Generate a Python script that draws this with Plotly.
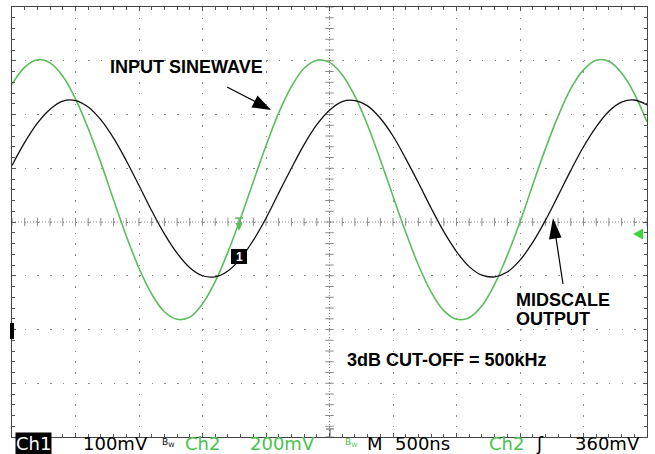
import numpy as np
import plotly.graph_objects as go

time_us = [round(0.1 * i, 1) for i in range(51)]          # 500 ns/div, 10 div
ch2_input_div = [2.56, 2.88, 3.02, 2.96, 2.71, 2.29, 1.74, 1.10, 0.41, -0.26,
                 -0.86, -1.34, -1.67, -1.81, -1.77, -1.52, -1.11, -0.56, 0.07, 0.75,
                 1.42, 2.03, 2.52, 2.86, 3.01, 2.97, 2.74, 2.34, 1.80, 1.16,
                 0.48, -0.19, -0.80, -1.30, -1.65, -1.81, -1.78, -1.56, -1.16, -0.62,
                 0.00, 0.69, 1.36, 1.97, 2.48, 2.83, 3.01, 2.99, 2.77, 2.39, 1.86]
ch1_output_div = [1.05, 1.48, 1.84, 2.10, 2.25, 2.26, 2.14, 1.90, 1.56, 1.14,
                  0.68, 0.21, -0.22, -0.58, -0.85, -1.00, -1.02, -0.91, -0.68, -0.34,
                  0.07, 0.54, 1.00, 1.44, 1.81, 2.08, 2.24, 2.26, 2.16, 1.93,
                  1.60, 1.18, 0.73, 0.26, -0.18, -0.55, -0.83, -0.99, -1.02, -0.93,
                  -0.71, -0.38, 0.03, 0.49, 0.96, 1.40, 1.77, 2.06, 2.23, 2.27, 2.18]

status_items = [  # text, left px, colour, size
    ("100mV", 82, "#000000", 18),
    ("B<sub>W</sub>", 161, "#000000", 9),
    ("Ch2", 184, "#4cc24c", 18),
    ("200mV", 249, "#4cc24c", 18),
    ("B<sub>W</sub>", 344, "#4cc24c", 9),
    ("M", 366, "#000000", 18),
    ("500ns", 394, "#000000", 18),
    ("Ch2", 488, "#4cc24c", 18),
    ("ʃ", 535, "#000000", 18),
    ("360mV", 574, "#000000", 18),
]

W, H = 655, 454
L, R, T, B = 12, 647, 7, 437


def P(px, py):
    return (px - L) / (R - L), (B - py) / (B - T)


GREEN = "#5cbd5c"
GRID = "#8a8a8a"

fig = go.Figure()

# centre graticule ticks
cy = np.round(np.arange(-4, 4.001, 0.2), 2)
cx = np.round(np.arange(0, 5.001, 0.1), 2)
fig.add_trace(go.Scatter(x=[2.5] * len(cy), y=cy, mode="markers", hoverinfo="skip",
                         marker=dict(symbol="line-ew", size=6, line=dict(width=1, color=GRID)),
                         showlegend=False))
fig.add_trace(go.Scatter(x=cx, y=[0] * len(cx), mode="markers", hoverinfo="skip",
                         marker=dict(symbol="line-ns", size=6, line=dict(width=1, color=GRID)),
                         showlegend=False))

fig.add_trace(go.Scatter(x=time_us, y=ch2_input_div, mode="lines", line_shape="spline",
                         line=dict(color=GREEN, width=1.6), showlegend=False))
fig.add_trace(go.Scatter(x=time_us, y=ch1_output_div, mode="lines", line_shape="spline",
                         line=dict(color="#111111", width=1.3), showlegend=False))

shapes = [
    dict(type="line", xref="x", yref="y", x0=2.5, x1=2.5, y0=-4, y1=4,
         line=dict(color=GRID, width=1, dash="1px,2px"), layer="below"),
    dict(type="line", xref="x", yref="y", x0=0, x1=5, y0=0, y1=0,
         line=dict(color=GRID, width=1, dash="1px,2px"), layer="below"),
]


def path(points):
    s = "M" + " L".join(f"{P(x, y)[0]:.5f},{P(x, y)[1]:.5f}" for x, y in points) + " Z"
    return s


def seg(p0, p1, color="#000000", width=1.2):
    a, b = P(*p0), P(*p1)
    return dict(type="line", xref="paper", yref="paper", x0=a[0], y0=a[1], x1=b[0], y1=b[1],
                line=dict(color=color, width=width))


# arrow to input sinewave
shapes.append(seg((227, 87), (256, 102)))
shapes.append(dict(type="path", xref="paper", yref="paper",
                   path=path([(271, 110), (251.5, 107.5), (257.5, 95.5)]),
                   fillcolor="#000000", line=dict(width=0)))
# arrow to midscale output
shapes.append(seg((563, 284), (556, 238)))
shapes.append(dict(type="path", xref="paper", yref="paper",
                   path=path([(553, 218), (549, 239.5), (561.5, 237.5)]),
                   fillcolor="#000000", line=dict(width=0)))
# channel 1 marker box
a, b = P(231, 249), P(247, 264)
shapes.append(dict(type="rect", xref="paper", yref="paper", x0=a[0], y0=a[1], x1=b[0], y1=b[1],
                   fillcolor="#000000", line=dict(width=0)))
# green trigger marker
shapes.append(seg((235, 218), (243, 218), GREEN, 1.5))
shapes.append(seg((239, 218), (239, 224), GREEN, 1.5))
shapes.append(dict(type="path", xref="paper", yref="paper",
                   path=path([(235.5, 223), (242.5, 223), (239, 231)]),
                   fillcolor=GREEN, line=dict(width=0)))
# green level arrow on right
shapes.append(dict(type="path", xref="paper", yref="paper",
                   path=path([(633, 234), (643, 228.5), (643, 239.5)]),
                   fillcolor="#3fd43f", line=dict(width=0)))
# left black ground marker
a, b = P(10, 323), P(14, 339)
shapes.append(dict(type="rect", xref="paper", yref="paper", x0=a[0], y0=a[1], x1=b[0], y1=b[1],
                   fillcolor="#000000", line=dict(width=0)))
# trigger position marker at bottom centre
shapes.append(seg((326, 429), (334, 429), "#555555", 1))
shapes.append(seg((330, 429), (330, 436), "#555555", 1))

annotations = []


def txt(text, px, py, size=18, color="#000000", family="Liberation Sans", xanchor="left",
        bg=None):
    x, y = P(px, py)
    d = dict(text=text, x=x, y=y, xref="paper", yref="paper", showarrow=False,
             xanchor=xanchor, yanchor="middle", font=dict(family=family, size=size, color=color),
             borderpad=0)
    if bg:
        d["bgcolor"] = bg
    annotations.append(d)


txt("<b>INPUT SINEWAVE</b>", 109, 66.5)
txt("<b>MIDSCALE</b>", 515, 299.5)
txt("<b>OUTPUT</b>", 515, 318.5)
txt("<b>3dB CUT-OFF = 500kHz</b>", 346, 359.5)
txt("<b>1</b>", 239, 256.5, size=12, color="#ffffff", xanchor="center")

# status bar
txt("Ch1", 15, 444, size=18, color="#ffffff", family="DejaVu Sans", bg="#000000")
for t, px, col, sz in status_items:
    yy = 442 if sz < 12 else 444
    txt(t, px, yy, size=sz, color=col, family="DejaVu Sans")

fig.update_layout(
    width=W, height=H, autosize=False,
    margin=dict(l=L, r=W - R, t=T, b=H - B, pad=0),
    paper_bgcolor="white", plot_bgcolor="white",
    shapes=shapes, annotations=annotations,
    xaxis=dict(range=[0, 5], dtick=0.5, showgrid=True, gridcolor=GRID, gridwidth=1,
               griddash="1.5px,9.24px", zeroline=False, showline=True, linecolor="#444444",
               linewidth=1, mirror="ticks", ticks="inside", ticklen=4, tickcolor="#555555",
               showticklabels=False,
               minor=dict(dtick=0.1, ticks="inside", ticklen=3, tickcolor="#555555",
                          showgrid=False)),
    yaxis=dict(range=[-4, 4], dtick=1, showgrid=True, gridcolor=GRID, gridwidth=1,
               griddash="1.5px,11.2px", zeroline=False, showline=True, linecolor="#444444",
               linewidth=1, mirror="ticks", ticks="inside", ticklen=4, tickcolor="#555555",
               showticklabels=False,
               minor=dict(dtick=0.2, ticks="inside", ticklen=3, tickcolor="#555555",
                          showgrid=False)),
)

fig.write_html("out.html", config={"displayModeBar": False},
               post_script="document.body.style.margin='0';document.body.style.overflow='hidden';")
